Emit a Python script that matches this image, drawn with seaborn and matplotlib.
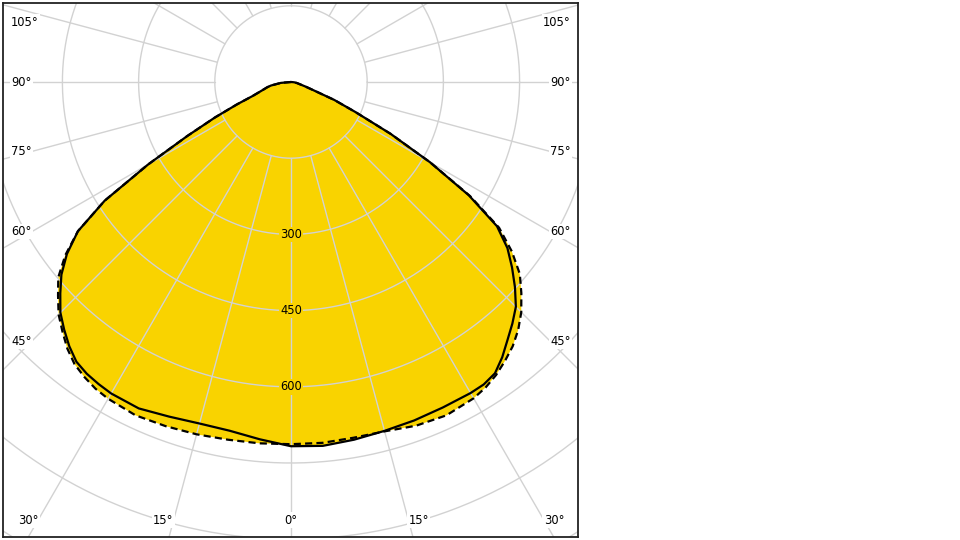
import numpy as np
import pandas as pd
import matplotlib
matplotlib.use("Agg")
import matplotlib.pyplot as plt
import seaborn as sns

# ---- data (luminous intensity, cd, vs gamma angle in degrees; negative = left half) ----
gamma = [-90, -85, -80, -77.5, -75, -72.5, -70, -67.5, -65, -62.5, -60, -57.5, -55, -52.5, -50,
         -47.5, -45, -42.5, -40, -37.5, -35, -32.5,
         -30, -25, -20, -15, -10, -5, 0, 5, 10, 15, 20, 25, 30,
         32.5, 35, 37.5, 40, 42.5, 45, 47.5, 50, 52.5, 55, 57.5, 60, 62.5, 65, 67.5, 70, 72.5, 75,
         77.5, 80, 85, 90]
plane_c0_c180 = [0, 20, 40, 48, 55, 65, 80, 115, 165, 230, 325, 435, 512, 556, 590,
                 616, 642, 661, 679, 694, 701, 705,
                 708, 709, 701, 696, 697, 706, 717, 719, 715, 711, 709, 707, 707,
                 706, 700, 683, 663, 645, 626, 598, 568, 537, 495, 415, 316, 221, 140, 92, 46, 30, 20,
                 15, 12, 6, 0]
plane_c90_c270 = [0, 20, 40, 48, 55, 65, 80, 115, 165, 230, 325, 435, 512, 560, 598,
                  622, 647, 666, 685, 700, 709, 716,
                  720, 724, 721, 718, 715, 714, 713, 713, 711, 712, 720, 724, 719,
                  713, 704, 692, 679, 662, 641, 615, 588, 548, 500, 418, 316, 221, 140, 92, 46, 30, 20,
                  15, 12, 6, 0]
ring_values = [150, 300, 450, 600, 750, 900, 1050, 1200]
ring_labels = ["300", "450", "600"]
angle_labels = [-105, -90, -75, -60, -45, -30, -15, 0, 15, 30, 45, 60, 75, 90, 105]

sns.set_style("white")
plt.rcParams["font.family"] = ["DejaVu Sans"]
plt.rcParams["text.color"] = "black"

YELLOW = "#F9D300"
GRID = "#d2d2d2"
FS = 8.3

fig = plt.figure(figsize=(9.6, 5.4), dpi=100)
# axes box in pixel terms: x 3..578, y 3..537 (from top)
ax = fig.add_axes([3 / 960, 3 / 540, 575 / 960, 534 / 540])

k = 0.508  # px per cd
cx, cy = 291, 82
xmin, xmax = (3 - cx) / k, (578 - cx) / k
ymax, ymin = (cy - 3) / k, (cy - 537) / k
ax.set_xlim(xmin, xmax)
ax.set_ylim(ymin, ymax)
ax.set_aspect("auto")


def to_xy(g, r):
    g = np.radians(np.asarray(g, dtype=float))
    r = np.asarray(r, dtype=float)
    return r * np.sin(g), -r * np.cos(g)


x1, y1 = to_xy(gamma, plane_c0_c180)
x2, y2 = to_xy(gamma, plane_c90_c270)

# fill (union of both planes)
ax.fill(x1, y1, color=YELLOW, lw=0, zorder=1)
ax.fill(x2, y2, color=YELLOW, lw=0, zorder=1)

# grid circles
t = np.linspace(0, 2 * np.pi, 721)
for rv in ring_values:
    ax.plot(rv * np.cos(t), rv * np.sin(t), color=GRID, lw=1.0, zorder=2)
# radial lines every 15 deg from r=150 outwards
for a in range(-180, 180, 15):
    gx, gy = to_xy([a, a], [ring_values[0], 3000])
    ax.plot(gx, gy, color=GRID, lw=1.0, zorder=2)

# curves via seaborn
df1 = pd.DataFrame({"x": x1, "y": y1})
df2 = pd.DataFrame({"x": x2, "y": y2})
sns.lineplot(data=df2, x="x", y="y", sort=False, estimator=None, ax=ax, color="black",
             lw=1.6, linestyle=(0, (3.2, 1.9)), zorder=3)
sns.lineplot(data=df1, x="x", y="y", sort=False, estimator=None, ax=ax, color="black",
             lw=1.6, zorder=4)

# ring value labels along the 0 deg line
for lab in ring_labels:
    ax.text(0, -float(lab), lab, ha="center", va="center", fontsize=FS, color="black",
            bbox=dict(facecolor=YELLOW, edgecolor="none", pad=1.0), zorder=5)

# angle labels along the frame
side_xr = (550 - cx) / k
bottom_y = (cy - 520) / k
top_y = (cy - 22) / k
for a in angle_labels:
    ar = np.radians(abs(a))
    sgn = -1 if a < 0 else 1
    dxdir, dydir = np.sin(ar), -np.cos(ar)
    txt = f"{abs(a)}°"
    if dydir < 0:
        tb = bottom_y / dydir
        xb = tb * dxdir
        if xb <= side_xr:
            xx = sgn * xb
            ha = "center" if a == 0 else ("right" if a < 0 else "left")
            ax.text(xx, bottom_y, txt, ha=ha, va="center", fontsize=FS, color="black",
                    bbox=dict(facecolor="white", edgecolor="none", pad=1.0), zorder=5)
            continue
    ts = side_xr / dxdir
    yy = min(ts * dydir, top_y)
    if a < 0:
        ax.text(xmin + 8 / k, yy, txt, ha="left", va="center", fontsize=FS, color="black",
                bbox=dict(facecolor="white", edgecolor="none", pad=1.0), zorder=5)
    else:
        ax.text(xmax - 7 / k, yy, txt, ha="right", va="center", fontsize=FS, color="black",
                bbox=dict(facecolor="white", edgecolor="none", pad=1.0), zorder=5)

ax.set_xticks([])
ax.set_yticks([])
ax.set_xlabel("")
ax.set_ylabel("")
for s in ax.spines.values():
    s.set_visible(True)
    s.set_color("#222222")
    s.set_linewidth(1.3)
    s.set_zorder(6)

fig.savefig("out.png", dpi=100)
